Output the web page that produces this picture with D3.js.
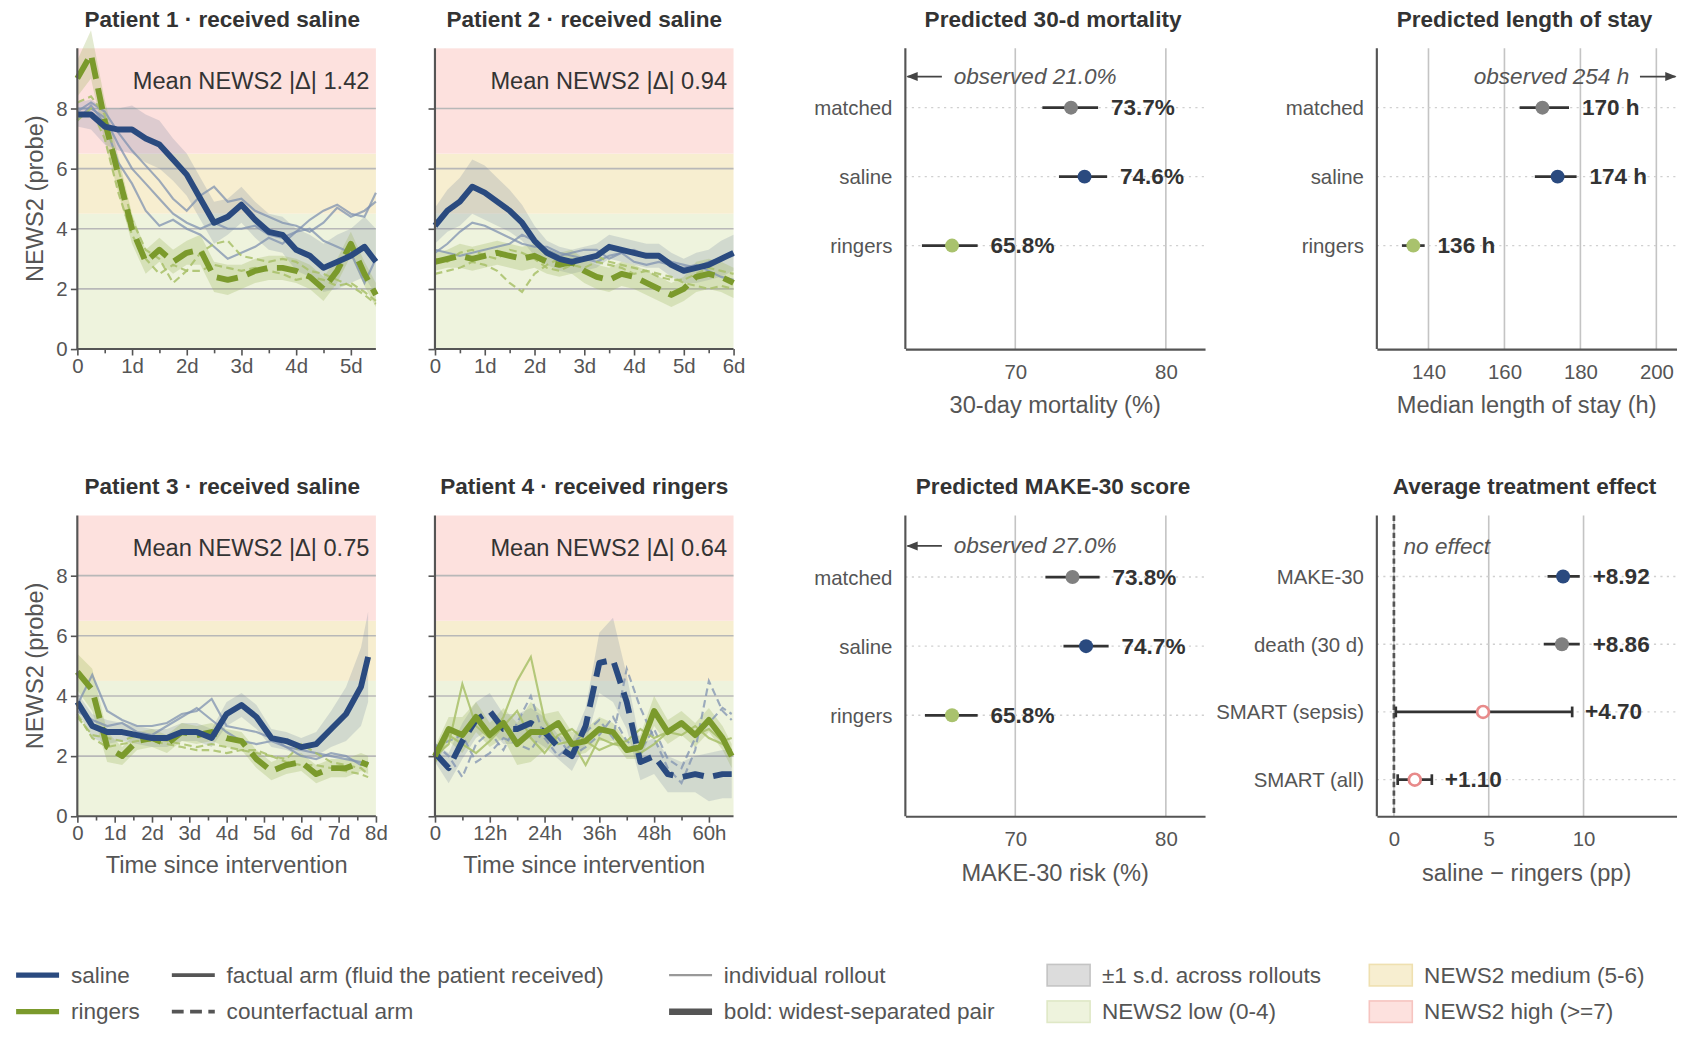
<!DOCTYPE html>
<html><head><meta charset="utf-8">
<script src="https://cdn.jsdelivr.net/npm/d3@7"></script>
<style>
body{margin:0;background:#fff;font-family:"Liberation Sans",Arial,sans-serif;}
</style></head><body>
<script>
// ---- data ----
var COL = { saline: "#2a4a7f", ringers: "#7b9a2c", matched: "#808080", ringersLight: "#a9c26d", smart: "#e88a8a" };

// patient 1 (hours)
var p1Time = [0,6,12,18,24,30,36,42,48,54,60,66,72,78,84,90,96,102,108,114,120,126,131];
var p1SalBold = [7.8,7.8,7.4,7.3,7.3,7.0,6.8,6.3,5.8,5.0,4.2,4.4,4.8,4.3,3.9,3.8,3.3,3.1,2.7,2.9,3.1,3.4,2.9];
var p1RinBold = [9.0,9.8,7.6,5.8,4.0,2.9,3.3,2.9,3.2,3.3,2.4,2.3,2.4,2.6,2.7,2.7,2.6,2.4,2.0,2.6,3.5,2.5,1.8];
var p1SalThin = [
  [8.0,8.0,7.7,6.8,6.0,5.5,5.0,4.5,4.2,4.0,4.2,4.0,4.0,4.1,3.8,3.7,3.9,4.3,4.6,4.8,4.5,4.4,5.2],
  [7.6,8.1,7.5,6.2,5.5,4.6,4.1,4.3,4.0,3.8,3.4,3.0,3.2,3.4,3.7,3.5,3.9,4.0,3.6,3.4,3.2,2.2,3.0],
  [7.9,8.2,7.9,7.2,6.6,6.1,5.6,5.0,4.6,5.1,5.4,4.9,5.0,4.6,4.4,4.2,4.1,3.9,4.2,4.7,4.4,4.6,4.9]];
var p1RinThin = [
  [8.2,8.4,7.8,6.0,4.3,3.3,3.0,2.2,2.6,3.2,3.5,3.6,3.1,3.0,2.9,3.0,2.9,2.6,2.5,2.3,2.1,1.8,1.5],
  [7.6,8.0,7.0,5.2,3.8,3.0,2.5,2.8,2.6,2.6,2.8,2.7,2.6,2.7,2.6,2.5,2.3,2.4,2.3,2.1,2.2,1.9,1.6]];
var p1SalSd = [0.4,0.5,0.6,0.7,0.8,0.8,0.8,0.7,0.7,0.7,0.7,0.6,0.6,0.6,0.6,0.6,0.7,0.7,0.8,0.9,0.9,1.0,1.1];
var p1RinSd = [0.6,0.8,0.7,0.6,0.5,0.4,0.4,0.4,0.4,0.5,0.5,0.5,0.4,0.4,0.4,0.4,0.4,0.4,0.4,0.4,0.4,0.4,0.4];

// patient 2
var p2Time = [0,6,12,18,24,30,36,42,48,54,60,66,72,78,84,90,96,102,108,114,120,126,132,138,144];
var p2SalBold = [4.1,4.6,4.9,5.4,5.2,4.9,4.6,4.2,3.6,3.2,3.0,2.9,3.0,3.1,3.4,3.3,3.2,3.1,3.1,2.8,2.6,2.7,2.8,3.0,3.2];
var p2RinBold = [2.9,3.0,3.1,3.0,3.1,3.2,3.1,3.0,3.1,2.9,2.8,2.9,2.6,2.4,2.3,2.5,2.4,2.2,2.0,1.8,2.0,2.4,2.5,2.4,2.2];
var p2SalThin = [
  [3.2,3.5,3.9,4.2,4.1,3.9,3.7,3.5,3.4,3.4,3.2,3.1,3.0,2.9,3.1,3.2,2.9,2.8,2.9,2.8,2.7,2.8,2.6,2.4,2.3],
  [3.3,3.2,3.1,3.2,3.3,3.4,3.5,3.8,3.6,3.3,3.1,3.2,3.3,3.3,3.0,3.2,3.3,3.1,3.1,2.9,2.8,2.7,2.9,3.0,3.1]];
var p2RinThin = [
  [2.5,2.6,2.7,2.9,2.8,2.6,2.2,1.9,2.5,2.8,3.0,2.9,3.0,3.1,2.9,2.8,2.7,2.6,2.5,2.4,2.2,2.1,2.0,2.1,2.0],
  [3.0,2.9,3.2,3.3,3.1,3.0,3.3,3.2,3.0,2.7,2.6,2.8,2.7,2.9,2.8,2.7,2.5,2.6,2.4,2.3,2.3,2.5,2.7,2.6,2.5]];
var p2SalSd = [0.6,0.7,0.8,0.9,0.9,0.8,0.7,0.6,0.5,0.4,0.4,0.4,0.4,0.4,0.4,0.4,0.4,0.4,0.4,0.4,0.4,0.5,0.5,0.6,0.6];
var p2RinSd = [0.3,0.3,0.4,0.4,0.4,0.4,0.4,0.4,0.4,0.4,0.4,0.4,0.4,0.4,0.4,0.4,0.4,0.4,0.4,0.4,0.4,0.5,0.5,0.5,0.5];

// patient 3
var p3Time = [0,9.6,19.2,28.8,38.4,48,57.6,67.2,76.8,86.4,96,105.6,115.2,124.8,134.4,144,153.6,163.2,172.8,182.4,187];
var p3SalBold = [3.8,3.0,2.8,2.8,2.7,2.6,2.6,2.8,2.8,2.6,3.4,3.7,3.3,2.6,2.5,2.3,2.4,2.9,3.4,4.3,5.3];
var p3RinBold = [4.8,4.2,2.3,2.0,2.5,2.6,2.4,2.8,2.7,2.8,2.6,2.5,1.9,1.5,1.7,1.8,1.4,1.6,1.6,1.8,1.7];
var p3SalThin = [
  [3.7,4.7,3.5,3.2,3.0,3.0,3.1,3.4,3.5,3.9,3.0,2.9,2.8,2.6,2.3,2.2,2.1,2.0,1.9,1.8,1.7],
  [3.5,3.2,3.0,3.1,2.8,2.7,3.0,3.3,3.6,3.2,2.8,2.5,2.4,2.5,2.3,2.0,1.9,2.1,2.0,1.7,1.8]];
var p3RinThin = [
  [3.3,2.7,2.6,2.5,2.7,2.6,2.5,2.4,2.3,2.4,2.3,2.2,2.1,2.0,1.9,2.4,2.1,1.8,1.7,1.6,1.4],
  [3.4,2.6,2.3,2.4,2.5,2.5,2.4,2.3,2.2,2.2,2.1,2.2,2.2,2.0,1.8,1.7,1.7,1.6,1.5,1.4,1.3]];
var p3SalSd = [0.3,0.4,0.4,0.3,0.3,0.3,0.3,0.3,0.3,0.3,0.4,0.4,0.4,0.3,0.3,0.3,0.4,0.6,0.9,1.3,1.5];
var p3RinSd = [0.6,0.7,0.5,0.3,0.3,0.3,0.3,0.3,0.3,0.3,0.3,0.3,0.3,0.3,0.3,0.3,0.3,0.3,0.3,0.3,0.3];

// patient 4
var p4Time = [0,3,6,9,12,15,18,21,24,27,30,33,36,39,42,45,48,51,54,57,60,63,65];
var p4RinBold = [2.0,2.9,2.7,3.3,2.7,3.1,2.4,2.8,2.8,3.1,2.4,2.5,2.9,2.8,2.2,2.3,3.5,2.8,3.1,2.7,3.2,2.6,2.0];
var p4SalBold = [2.1,1.6,2.5,3.2,3.5,2.9,2.9,3.1,2.8,2.3,2.0,3.0,5.1,5.2,3.8,1.8,2.0,1.4,1.3,1.4,1.3,1.4,1.4];
var p4RinThin = [
  [2.0,2.4,4.4,3.0,2.6,3.3,4.5,5.3,3.2,2.4,2.5,1.7,2.6,2.4,2.3,2.1,2.4,2.8,2.7,3.0,2.6,2.4,2.2],
  [1.8,2.7,2.4,2.1,2.5,3.0,3.5,2.6,2.1,2.7,2.9,2.5,2.2,2.4,2.5,2.9,2.6,2.8,3.0,2.7,2.9,2.5,2.6]];
var p4SalThin = [
  [2.4,2.0,1.3,2.4,2.8,2.2,3.1,4.0,2.6,2.0,2.4,2.8,3.2,2.6,4.9,3.6,2.6,1.6,1.1,2.2,4.5,3.5,3.2],
  [2.3,2.5,2.7,1.8,2.1,2.6,2.4,2.2,2.9,2.6,2.0,2.3,2.7,3.3,2.5,2.2,2.9,1.9,1.6,2.6,3.1,3.6,3.4]];
var p4SalSd = [0.3,0.5,0.6,0.6,0.6,0.5,0.5,0.5,0.5,0.4,0.5,0.6,1.0,1.4,0.9,0.6,0.6,0.6,0.5,0.6,0.8,0.8,0.8];
var p4RinSd = [0.3,0.4,0.6,0.5,0.4,0.5,0.7,1.0,0.6,0.4,0.4,0.4,0.4,0.3,0.3,0.4,0.5,0.4,0.4,0.4,0.4,0.4,0.4];

var patients = [
  { title: "Patient 1 · received saline", received: "saline", mean: "1.42", time: p1Time, xMax: 131, ticks: [0,24,48,72,96,120], minor: 12, tickFmt: "d",
    salBold: p1SalBold, rinBold: p1RinBold, salThin: p1SalThin, rinThin: p1RinThin, salSd: p1SalSd, rinSd: p1RinSd },
  { title: "Patient 2 · received saline", received: "saline", mean: "0.94", time: p2Time, xMax: 144, ticks: [0,24,48,72,96,120,144], minor: 12, tickFmt: "d",
    salBold: p2SalBold, rinBold: p2RinBold, salThin: p2SalThin, rinThin: p2RinThin, salSd: p2SalSd, rinSd: p2RinSd },
  { title: "Patient 3 · received saline", received: "saline", mean: "0.75", time: p3Time, xMax: 192, ticks: [0,24,48,72,96,120,144,168,192], minor: 12, tickFmt: "d",
    salBold: p3SalBold, rinBold: p3RinBold, salThin: p3SalThin, rinThin: p3RinThin, salSd: p3SalSd, rinSd: p3RinSd },
  { title: "Patient 4 · received ringers", received: "ringers", mean: "0.64", time: p4Time, xMax: 65.4, ticks: [0,12,24,36,48,60], minor: 6, tickFmt: "h",
    salBold: p4SalBold, rinBold: p4RinBold, salThin: p4SalThin, rinThin: p4RinThin, salSd: p4SalSd, rinSd: p4RinSd }
];

var armCats = ["matched", "saline", "ringers"];
var mortVal = [73.7, 74.6, 65.8], mortLo = [71.8, 72.9, 63.8], mortHi = [75.5, 76.1, 67.5];
var losVal = [170, 174, 136], losLo = [164, 168, 133], losHi = [177, 179, 139];
var makeVal = [73.8, 74.7, 65.8], makeLo = [72.0, 73.2, 64.0], makeHi = [75.6, 76.2, 67.5];
var ateCats = ["MAKE-30", "death (30 d)", "SMART (sepsis)", "SMART (all)"];
var ateVal = [8.92, 8.86, 4.70, 1.10], ateLo = [8.1, 7.9, 0.1, 0.2], ateHi = [9.8, 9.8, 9.4, 2.0];

// ---- drawing ----
var W = 1684, H = 1042;
var root = d3.select("body").append("svg").attr("width", W).attr("height", H);
// layout measured on a 1568-wide copy of the reference; scale up to the page
var svg = root.append("g").attr("transform", "scale(" + (W / 1568) + ")");
var AX = "#555", TXT = "#333", LBL = "#555";

function panelTitle(cx, y, text) {
  svg.append("text").attr("x", cx).attr("y", y).attr("text-anchor", "middle")
    .attr("font-size", 21).attr("font-weight", "bold").attr("fill", TXT).text(text);
}

var tsBoxes = [
  { x0: 72, x1: 350, y0: 45, y1: 325 }, { x0: 405, x1: 683, y0: 45, y1: 325 },
  { x0: 72, x1: 350, y0: 480, y1: 760 }, { x0: 405, x1: 683, y0: 480, y1: 760 }];

patients.forEach(function (p, i) {
  var b = tsBoxes[i];
  var x = d3.scaleLinear().domain([0, p.xMax]).range([b.x0, b.x1]);
  var y = d3.scaleLinear().domain([0, 10]).range([b.y1, b.y0]);
  var g = svg.append("g");
  // NEWS2 bands
  [[0, 4.5, "#eef3dd"], [4.5, 6.5, "#f7eed0"], [6.5, 10, "#fde1de"]].forEach(function (z) {
    g.append("rect").attr("x", b.x0).attr("width", b.x1 - b.x0)
      .attr("y", y(z[1])).attr("height", y(z[0]) - y(z[1])).attr("fill", z[2]);
  });
  [2, 4, 6, 8].forEach(function (v) {
    g.append("line").attr("x1", b.x0).attr("x2", b.x1).attr("y1", y(v)).attr("y2", y(v))
      .attr("stroke", "#b8b8b8").attr("stroke-width", 1.5);
  });
  var area = function (vals, sd) {
    return d3.area().x(function (d, k) { return x(p.time[k]); })
      .y0(function (d, k) { return y(vals[k] - sd[k]); })
      .y1(function (d, k) { return y(vals[k] + sd[k]); })(vals);
  };
  var line = d3.line().x(function (d, k) { return x(p.time[k]); }).y(function (d) { return y(d); });
  var salFact = p.received === "saline";
  g.append("path").attr("d", area(p.salBold, p.salSd)).attr("fill", "#6d7f99").attr("opacity", 0.22);
  g.append("path").attr("d", area(p.rinBold, p.rinSd)).attr("fill", "#9ab25a").attr("opacity", 0.28);
  p.salThin.forEach(function (s) {
    g.append("path").attr("d", line(s)).attr("fill", "none").attr("stroke", "#7f92b0").attr("stroke-width", 2)
      .attr("opacity", 0.75).attr("stroke-dasharray", salFact ? null : "7,4");
  });
  p.rinThin.forEach(function (s) {
    g.append("path").attr("d", line(s)).attr("fill", "none").attr("stroke", "#a8bf68").attr("stroke-width", 2)
      .attr("opacity", 0.85).attr("stroke-dasharray", salFact ? "7,4" : null);
  });
  // bold pair: counterfactual first
  var cf = salFact ? [p.rinBold, COL.ringers] : [p.salBold, COL.saline];
  var fa = salFact ? [p.salBold, COL.saline] : [p.rinBold, COL.ringers];
  g.append("path").attr("d", line(cf[0])).attr("fill", "none").attr("stroke", cf[1]).attr("stroke-width", 5.5)
    .attr("stroke-dasharray", "20,9").attr("stroke-linejoin", "round");
  g.append("path").attr("d", line(fa[0])).attr("fill", "none").attr("stroke", fa[1]).attr("stroke-width", 5.5)
    .attr("stroke-linejoin", "round");
  // axes
  var xa = g.append("g").attr("transform", "translate(0," + b.y1 + ")")
    .call(d3.axisBottom(x).tickValues(p.ticks).tickSize(6).tickFormat(function (v) {
      if (v === 0) return "0";
      return p.tickFmt === "d" ? (v / 24) + "d" : v + "h";
    }));
  var minorVals = d3.range(p.minor, p.xMax, p.minor * 2);
  g.append("g").attr("transform", "translate(0," + b.y1 + ")")
    .call(d3.axisBottom(x).tickValues(minorVals).tickSize(4).tickFormat(""))
    .call(function (s) { s.select(".domain").remove(); s.selectAll("line").attr("stroke", AX).attr("stroke-width", 1.5); });
  var ya = g.append("g").attr("transform", "translate(" + b.x0 + ",0)")
    .call(d3.axisLeft(y).tickValues([0, 2, 4, 6, 8]).tickSize(6).tickFormat(i % 2 === 0 ? d3.format("d") : ""));
  [xa, ya].forEach(function (a) {
    a.select(".domain").attr("stroke", AX).attr("stroke-width", 2);
    a.selectAll(".tick line").attr("stroke", AX).attr("stroke-width", 1.5);
    a.selectAll(".tick text").attr("font-size", 19).attr("fill", LBL).attr("font-family", "Liberation Sans, Arial");
  });
  ya.select(".domain").attr("d", "M0," + b.y1 + "V" + b.y0);
  xa.select(".domain").attr("d", "M" + b.x0 + ",0H" + b.x1);
  g.append("text").attr("x", b.x1 - 6).attr("y", b.y0 + 38).attr("text-anchor", "end")
    .attr("font-size", 22).attr("fill", TXT).text("Mean NEWS2 |Δ| " + p.mean);
  panelTitle((b.x0 + b.x1) / 2 + (i % 2 === 0 ? -4 : 0), b.y0 - 20, p.title);
  if (i % 2 === 0) {
    svg.append("text").attr("transform", "translate(40," + ((b.y0 + b.y1) / 2) + ") rotate(-90)")
      .attr("text-anchor", "middle").attr("font-size", 22).attr("fill", LBL).text("NEWS2 (probe)");
  }
  if (i >= 2) {
    svg.append("text").attr("x", (b.x0 + b.x1) / 2).attr("y", b.y1 + 53).attr("text-anchor", "middle")
      .attr("font-size", 22).attr("fill", LBL).text("Time since intervention");
  }
});

// forest panels
function forest(opt) {
  var b = opt.box;
  var x = d3.scaleLinear().domain(opt.xDomain).range([b.x0, b.x1]);
  var y = d3.scaleLinear().domain(opt.yDomain).range([b.y0, b.y1]);
  var g = svg.append("g");
  opt.ticks.forEach(function (t) {
    g.append("line").attr("x1", x(t)).attr("x2", x(t)).attr("y1", b.y0).attr("y2", b.y1)
      .attr("stroke", "#c4c4c4").attr("stroke-width", 1.5);
  });
  opt.cats.forEach(function (c, k) {
    g.append("line").attr("x1", b.x0).attr("x2", b.x1).attr("y1", y(k)).attr("y2", y(k))
      .attr("stroke", "#d0d0d0").attr("stroke-width", 1.3).attr("stroke-dasharray", "2,4");
  });
  var xa = g.append("g").attr("transform", "translate(0," + b.y1 + ")")
    .call(d3.axisBottom(x).tickValues(opt.ticks).tickSize(0).tickPadding(14));
  xa.select(".domain").attr("stroke", AX).attr("stroke-width", 2);
  xa.selectAll(".tick text").attr("font-size", 19).attr("fill", LBL);
  g.append("line").attr("x1", b.x0).attr("x2", b.x0).attr("y1", b.y0).attr("y2", b.y1).attr("stroke", AX).attr("stroke-width", 2);
  opt.cats.forEach(function (c, k) {
    g.append("text").attr("x", b.x0 - 12).attr("y", y(k) + 7).attr("text-anchor", "end")
      .attr("font-size", 19).attr("fill", LBL).text(c);
  });
  if (opt.extra) opt.extra(g, x, y);
  opt.cats.forEach(function (c, k) {
    g.append("line").attr("x1", x(opt.lo[k])).attr("x2", x(opt.hi[k])).attr("y1", y(k)).attr("y2", y(k))
      .attr("stroke", "#333").attr("stroke-width", 2.5);
    if (opt.caps && opt.caps[k]) {
      [opt.lo[k], opt.hi[k]].forEach(function (v) {
        g.append("line").attr("x1", x(v)).attr("x2", x(v)).attr("y1", y(k) - 5).attr("y2", y(k) + 5)
          .attr("stroke", "#333").attr("stroke-width", 2.5);
      });
    }
    var open = opt.open && opt.open[k];
    g.append("circle").attr("cx", x(opt.val[k])).attr("cy", y(k)).attr("r", open ? 5.5 : 6.5)
      .attr("fill", open ? "#fff" : opt.colors[k]).attr("stroke", open ? opt.colors[k] : "none").attr("stroke-width", 2.5);
    g.append("text").attr("x", x(opt.hi[k]) + 12).attr("y", y(k) + 7).attr("font-size", 21)
      .attr("font-weight", "bold").attr("fill", TXT).text(opt.fmt(opt.val[k]));
  });
  panelTitle((b.x0 + b.x1) / 2 - 2, b.y0 - 20, opt.title);
  svg.append("text").attr("x", (b.x0 + b.x1) / 2).attr("y", b.y1 + 60).attr("text-anchor", "middle")
    .attr("font-size", 22).attr("fill", LBL).text(opt.xLabel);
}

var armColors = [COL.matched, COL.saline, COL.ringersLight];
svg.append("defs").append("marker").attr("id", "arr").attr("viewBox", "0 0 10 10").attr("refX", 9).attr("refY", 5)
  .attr("markerWidth", 7).attr("markerHeight", 7).attr("orient", "auto")
  .append("path").attr("d", "M0,1L10,5L0,9z").attr("fill", "#444");

function obsLeft(label) {
  return function (g, x, y) {
    var x0 = x.range()[0], yy = y(-0.45);
    g.append("line").attr("x1", x0 + 34).attr("x2", x0 + 2).attr("y1", yy).attr("y2", yy)
      .attr("stroke", "#444").attr("stroke-width", 1.5).attr("marker-end", "url(#arr)");
    g.append("text").attr("x", x0 + 45).attr("y", yy + 7).attr("font-size", 21).attr("font-style", "italic")
      .attr("fill", "#555").text(label);
  };
}

forest({ box: { x0: 843, x1: 1122, y0: 45, y1: 325 }, xDomain: [62.7, 82.6], yDomain: [-0.86, 3.5], ticks: [70, 80],
  cats: armCats, val: mortVal, lo: mortLo, hi: mortHi, colors: armColors, fmt: function (v) { return v.toFixed(1) + "%"; },
  title: "Predicted 30-d mortality", xLabel: "30-day mortality (%)", extra: obsLeft("observed 21.0%") });

forest({ box: { x0: 1282, x1: 1561, y0: 45, y1: 325 }, xDomain: [126.4, 205.3], yDomain: [-0.86, 3.5], ticks: [140, 160, 180, 200],
  cats: armCats, val: losVal, lo: losLo, hi: losHi, colors: armColors, fmt: function (v) { return v + " h"; },
  title: "Predicted length of stay", xLabel: "Median length of stay (h)",
  extra: function (g, x, y) {
    var yy = y(-0.45);
    g.append("text").attr("x", 1517).attr("y", yy + 7).attr("text-anchor", "end").attr("font-size", 21)
      .attr("font-style", "italic").attr("fill", "#555").text("observed 254 h");
    g.append("line").attr("x1", 1527).attr("x2", 1560).attr("y1", yy).attr("y2", yy)
      .attr("stroke", "#444").attr("stroke-width", 1.5).attr("marker-end", "url(#arr)");
  } });

forest({ box: { x0: 843, x1: 1122, y0: 480, y1: 760 }, xDomain: [62.7, 82.6], yDomain: [-0.89, 3.46], ticks: [70, 80],
  cats: armCats, val: makeVal, lo: makeLo, hi: makeHi, colors: armColors, fmt: function (v) { return v.toFixed(1) + "%"; },
  title: "Predicted MAKE-30 score", xLabel: "MAKE-30 risk (%)", extra: obsLeft("observed 27.0%") });

forest({ box: { x0: 1282, x1: 1561, y0: 480, y1: 760 }, xDomain: [-0.9, 14.9], yDomain: [-0.9, 3.54], ticks: [0, 5, 10],
  cats: ateCats, val: ateVal, lo: ateLo, hi: ateHi, colors: [COL.saline, COL.matched, COL.smart, COL.smart],
  open: [false, false, true, true], caps: [false, false, true, true],
  fmt: function (v) { return "+" + v.toFixed(2); },
  title: "Average treatment effect", xLabel: "saline − ringers (pp)",
  extra: function (g, x, y) {
    g.append("line").attr("x1", x(0)).attr("x2", x(0)).attr("y1", 480).attr("y2", 760)
      .attr("stroke", "#555").attr("stroke-width", 2.5).attr("stroke-dasharray", "5,3");
    g.append("text").attr("x", x(0) + 9).attr("y", y(-0.45) + 7).attr("font-size", 21).attr("font-style", "italic")
      .attr("fill", "#555").text("no effect");
  } });

// legend
var lg = svg.append("g").attr("font-size", 21).attr("fill", LBL);
function legLine(x, y, color, w, dash, label) {
  lg.append("line").attr("x1", x).attr("x2", x + 40).attr("y1", y).attr("y2", y).attr("stroke", color)
    .attr("stroke-width", w).attr("stroke-dasharray", dash);
  lg.append("text").attr("x", x + 51).attr("y", y + 7).attr("fill", LBL).text(label);
}
function legRect(x, y, fill, stroke, label) {
  lg.append("rect").attr("x", x).attr("y", y - 10).attr("width", 40).attr("height", 20).attr("fill", fill)
    .attr("stroke", stroke).attr("stroke-width", 1.5);
  lg.append("text").attr("x", x + 51).attr("y", y + 7).attr("fill", LBL).text(label);
}
legLine(15, 908, COL.saline, 5, null, "saline");
legLine(15, 942, COL.ringers, 5, null, "ringers");
legLine(160, 908, "#555", 3.5, null, "factual arm (fluid the patient received)");
legLine(160, 942, "#555", 3.5, "11,6", "counterfactual arm");
legLine(623, 908, "#999", 2, null, "individual rollout");
legLine(623, 942, "#555", 6, null, "bold: widest-separated pair");
legRect(975, 908, "#dcdcdc", "#c4c4c4", "±1 s.d. across rollouts");
legRect(975, 942, "#eef3dd", "#dfe8c6", "NEWS2 low (0-4)");
legRect(1275, 908, "#f7eed0", "#efe0b0", "NEWS2 medium (5-6)");
legRect(1275, 942, "#fde1de", "#f6c4c0", "NEWS2 high (>=7)");
</script>
</body></html>
